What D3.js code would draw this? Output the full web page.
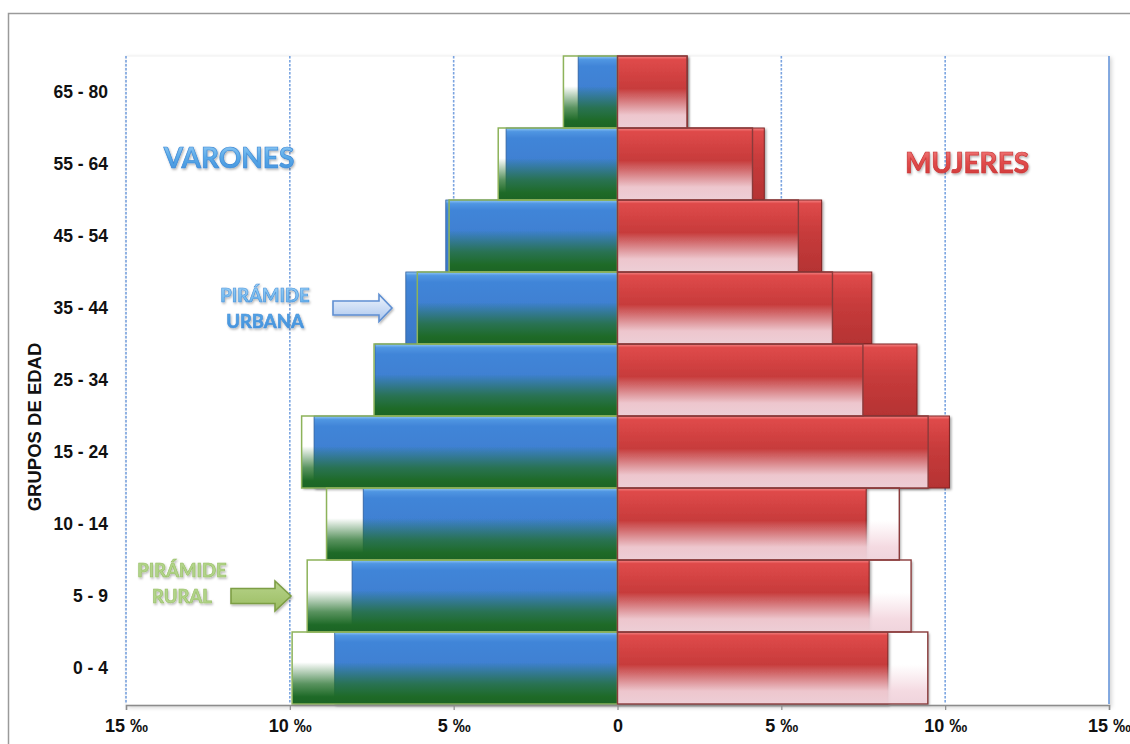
<!DOCTYPE html>
<html>
<head>
<meta charset="utf-8">
<script src="https://cdn.jsdelivr.net/npm/d3@7/dist/d3.min.js"></script>
<style>
  html, body { margin: 0; padding: 0; background: #ffffff; }
  svg { display: block; }
</style>
</head>
<body>
<svg id="chart" width="1130" height="744"></svg>
<script>
// Age groups, top to bottom
const ageGroups = ["65 - 80", "55 - 64", "45 - 54", "35 - 44", "25 - 34", "15 - 24", "10 - 14", "5 - 9", "0 - 4"];
// Shares per thousand (‰)
const menUrban   = [1.20, 3.40, 5.24, 6.46, 7.40, 9.26, 7.76, 8.10, 8.63];
const menRural   = [1.65, 3.64, 5.14, 6.11, 7.43, 9.64, 8.88, 9.47, 9.93];
const womenUrban = [2.13, 4.48, 6.23, 7.76, 9.14, 10.13, 7.59, 7.68, 8.25];
const womenRural = [2.12, 4.12, 5.52, 6.56, 7.49, 9.48, 8.60, 8.96, 9.47];
const xTicks = [-15, -10, -5, 0, 5, 10, 15];
const gridValues = [-15, -10, -5, 5, 10, 15];

const svg = d3.select("#chart");
const plot = { left: 126, right: 1109, top: 56, bottom: 704 };

const x = d3.scaleLinear().domain([-15, 15]).range([plot.left, plot.right]);
const y = d3.scaleBand().domain(ageGroups).range([plot.top, plot.bottom]).padding(0);

// ---------- defs: gradients and shadows ----------
const defs = svg.append("defs");
function vGrad(id, stops) {
  const g = defs.append("linearGradient").attr("id", id)
    .attr("x1", 0).attr("y1", 0).attr("x2", 0).attr("y2", 1);
  stops.forEach(s => g.append("stop").attr("offset", s[0])
    .attr("stop-color", s[1]).attr("stop-opacity", s[2] === undefined ? 1 : s[2]));
}
vGrad("gUrbanM", [[0, "#92c8f6"], [0.05, "#5096e2"], [0.14, "#4185d8"], [1, "#3a78c8"]]);
vGrad("gRuralM", [[0, "#226f2a", 0], [0.42, "#226f2a", 0], [0.72, "#226f2a", 0.75], [0.9, "#1e6a27", 1], [1, "#1c6425", 1]]);
vGrad("gUrbanW", [[0, "#f68686"], [0.05, "#df4a4a"], [0.45, "#c73b3b"], [1, "#b53333"]]);
vGrad("gRuralW", [[0, "#f5d8e0", 0], [0.45, "#f5d8e0", 0], [0.82, "#f3d6de", 0.9], [1, "#efd3db", 0.97]]);
vGrad("gTitleM", [[0, "#9fd3f8"], [0.5, "#5aaae8"], [1, "#3f8fdc"]]);
vGrad("gTitleW", [[0, "#f58a8a"], [0.5, "#e24c4c"], [1, "#cc3535"]]);
vGrad("gArrowU", [[0, "#eef4fc"], [1, "#a9c5ee"]]);
vGrad("gArrowR", [[0, "#b7d38a"], [1, "#9bbd62"]]);

const shadow = defs.append("filter").attr("id", "shadow")
  .attr("x", "-10%").attr("y", "-10%").attr("width", "130%").attr("height", "130%");
shadow.append("feDropShadow").attr("dx", 1.5).attr("dy", 1.5)
  .attr("stdDeviation", 1.3).attr("flood-color", "#000").attr("flood-opacity", 0.35);

const softShadow = defs.append("filter").attr("id", "softShadow")
  .attr("x", "-10%").attr("y", "-20%").attr("width", "130%").attr("height", "150%");
softShadow.append("feDropShadow").attr("dx", 1).attr("dy", 1.5)
  .attr("stdDeviation", 1).attr("flood-color", "#000").attr("flood-opacity", 0.3);

const plotShadow = defs.append("filter").attr("id", "plotShadow")
  .attr("x", "-2%").attr("y", "-2%").attr("width", "104%").attr("height", "104%");
plotShadow.append("feDropShadow").attr("dx", 2).attr("dy", 2)
  .attr("stdDeviation", 2).attr("flood-color", "#000").attr("flood-opacity", 0.18);

// ---------- chart frame ----------
svg.append("rect").attr("x", 8.5).attr("y", 13.5).attr("width", 1140).attr("height", 760)
  .attr("fill", "#ffffff").attr("stroke", "#9a9a9a").attr("stroke-width", 1.5);

// plot area
svg.append("rect")
  .attr("x", plot.left).attr("y", plot.top)
  .attr("width", plot.right - plot.left).attr("height", plot.bottom - plot.top + 1)
  .attr("fill", "#ffffff").attr("stroke", "#f0f0f0").attr("filter", "url(#plotShadow)");

// ---------- gridlines ----------
svg.append("g").selectAll("line").data(gridValues).join("line")
  .attr("x1", d => x(d)).attr("x2", d => x(d))
  .attr("y1", plot.top).attr("y2", plot.bottom)
  .attr("stroke", "#4f86d6").attr("stroke-width", 1.6)
  .attr("stroke-dasharray", d => d === 15 ? null : "2.5,1.5")
  .attr("opacity", d => d === 15 ? 0.85 : 0.75);

// ---------- bars ----------
const rows = ageGroups.map((g, i) => ({
  group: g, mu: menUrban[i], mr: menRural[i], wu: womenUrban[i], wr: womenRural[i]
}));
const bh = y.bandwidth();

const bars = svg.append("g");
// white base for the rural (back) extent
bars.selectAll(".baseM").data(rows).join("rect").attr("class", "baseM")
  .attr("x", d => x(-d.mr)).attr("y", d => y(d.group))
  .attr("width", d => x(0) - x(-d.mr)).attr("height", bh)
  .attr("fill", "#ffffff").attr("filter", "url(#shadow)");
bars.selectAll(".baseW").data(rows).join("rect").attr("class", "baseW")
  .attr("x", x(0)).attr("y", d => y(d.group))
  .attr("width", d => x(d.wr) - x(0)).attr("height", bh)
  .attr("fill", "#ffffff").attr("filter", "url(#shadow)");

// urban bars
bars.selectAll(".urbM").data(rows).join("rect").attr("class", "urbM")
  .attr("x", d => x(-d.mu)).attr("y", d => y(d.group))
  .attr("width", d => x(0) - x(-d.mu)).attr("height", bh)
  .attr("fill", "url(#gUrbanM)").attr("stroke", "#2f609f").attr("stroke-width", 0.8)
  .attr("filter", "url(#shadow)");
bars.selectAll(".urbW").data(rows).join("rect").attr("class", "urbW")
  .attr("x", x(0)).attr("y", d => y(d.group))
  .attr("width", d => x(d.wu) - x(0)).attr("height", bh)
  .attr("fill", "url(#gUrbanW)").attr("stroke", "#7d2424").attr("stroke-width", 1)
  .attr("filter", "url(#shadow)");

// rural bars, drawn on top with a fading fill
bars.selectAll(".rurM").data(rows).join("rect").attr("class", "rurM")
  .attr("x", d => x(-d.mr)).attr("y", d => y(d.group))
  .attr("width", d => x(0) - x(-d.mr)).attr("height", bh)
  .attr("fill", "url(#gRuralM)").attr("stroke", "#8db35a").attr("stroke-width", 1.5);
bars.selectAll(".rurW").data(rows).join("rect").attr("class", "rurW")
  .attr("x", x(0)).attr("y", d => y(d.group))
  .attr("width", d => x(d.wr) - x(0)).attr("height", bh)
  .attr("fill", "url(#gRuralW)").attr("stroke", "#8a3b3b").attr("stroke-width", 1.4);

// ---------- axes ----------
const xAxis = d3.axisBottom(x).tickValues(xTicks).tickSize(5).tickPadding(9)
  .tickFormat(d => d === 0 ? "0" : Math.abs(d) + " ‰");
const gx = svg.append("g").attr("transform", `translate(0,${plot.bottom + 1})`).call(xAxis);
gx.select(".domain").attr("stroke", "#8c8c8c").attr("stroke-width", 1.5);
gx.selectAll(".tick line").attr("stroke", "#8c8c8c").attr("stroke-width", 1.2);
gx.selectAll(".tick text")
  .attr("font-family", "'Liberation Sans', Arial, sans-serif")
  .attr("font-weight", "bold").attr("font-size", 18).attr("fill", "#111");

const yAxis = d3.axisLeft(y).tickSize(0).tickPadding(18);
const gy = svg.append("g").attr("transform", `translate(${plot.left},0)`).call(yAxis);
gy.select(".domain").remove();
gy.selectAll(".tick text")
  .attr("font-family", "'Liberation Sans', Arial, sans-serif")
  .attr("font-weight", "bold").attr("font-size", 17.5).attr("fill", "#111");

svg.append("text")
  .attr("transform", "translate(41,427) rotate(-90)")
  .attr("text-anchor", "middle")
  .attr("font-family", "'Liberation Sans', Arial, sans-serif")
  .attr("font-weight", "bold").attr("font-size", 18.5).attr("fill", "#111")
  .text("GRUPOS DE EDAD");

// ---------- titles ----------
svg.append("text").attr("x", 229).attr("y", 168).attr("text-anchor", "middle")
  .attr("font-family", "Lato, 'Open Sans', sans-serif").attr("font-weight", "bold")
  .attr("font-size", 28).attr("fill", "url(#gTitleM)")
  .attr("stroke", "#3f8ad6").attr("stroke-width", 0.7)
  .attr("filter", "url(#softShadow)").text("VARONES");

svg.append("text").attr("x", 967).attr("y", 173).attr("text-anchor", "middle")
  .attr("font-family", "Lato, 'Open Sans', sans-serif").attr("font-weight", "bold")
  .attr("font-size", 28).attr("fill", "url(#gTitleW)")
  .attr("stroke", "#c83838").attr("stroke-width", 0.7)
  .attr("filter", "url(#softShadow)").text("MUJERES");

function twoLine(cx, y0, lines, fill, stroke) {
  const t = svg.append("text").attr("text-anchor", "middle")
    .attr("font-family", "Lato, 'Open Sans', sans-serif").attr("font-weight", "bold")
    .attr("font-size", 18.5).attr("fill", fill)
    .attr("stroke", stroke).attr("stroke-width", 0.6)
    .attr("filter", "url(#softShadow)");
  lines.forEach((l, i) => t.append("tspan").attr("x", cx).attr("y", y0 + i * 26).text(l));
}
twoLine(265, 302, ["PIRÁMIDE", "URBANA"], "url(#gTitleM)", "#4a92da");
twoLine(182, 577, ["PIRÁMIDE", "RURAL"], "#b2d48a", "#98bf66");

// ---------- arrows ----------
function arrow(x0, xb, xt, cy, shaftH, headH, fill, stroke) {
  const p = d3.path();
  p.moveTo(x0, cy - shaftH / 2);
  p.lineTo(xb, cy - shaftH / 2);
  p.lineTo(xb, cy - headH / 2);
  p.lineTo(xt, cy);
  p.lineTo(xb, cy + headH / 2);
  p.lineTo(xb, cy + shaftH / 2);
  p.lineTo(x0, cy + shaftH / 2);
  p.closePath();
  svg.append("path").attr("d", p.toString())
    .attr("fill", fill).attr("stroke", stroke).attr("stroke-width", 1.6)
    .attr("stroke-linejoin", "miter").attr("filter", "url(#softShadow)");
}
arrow(333, 379, 392, 308, 14, 27, "url(#gArrowU)", "#5f8fd2");
arrow(231, 275, 291, 596, 15, 30, "url(#gArrowR)", "#7d9e45");
</script>
</body>
</html>
